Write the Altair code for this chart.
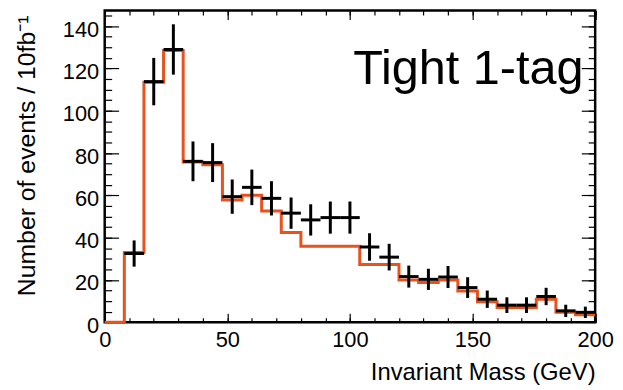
import altair as alt
import pandas as pd

# ---------------- data ----------------
bin_edges = list(range(0, 201, 8))  # 25 bins of 8 GeV
mc_counts = [0, 33.0, 113.5, 128.5, 75.8, 74.5, 57.8, 60.1, 52.6, 42.5,
             35.9, 35.9, 35.9, 27.3, 27.3, 20.0, 18.8, 20.0, 14.8, 9.7,
             7.0, 7.0, 10.9, 4.7, 3.6]

data_centers = [12, 20, 28, 36, 44, 52, 60, 68, 76, 84, 92, 100, 108, 116,
                124, 132, 140, 148, 156, 164, 172, 180, 188, 196]
data_counts = [32.5, 113.8, 129.0, 76.1, 75.5, 59.4, 63.8, 58.6, 51.6, 48.4,
               49.5, 49.5, 35.6, 30.8, 21.6, 20.3, 21.4, 16.4, 10.9, 8.1,
               8.1, 12.2, 5.4, 4.7]
data_errors = [6.2, 11.2, 11.9, 9.4, 9.2, 8.1, 8.4, 8.1, 7.4, 7.4,
               7.6, 7.6, 6.5, 6.3, 5.2, 5.0, 5.2, 4.9, 4.1, 3.7,
               3.7, 4.1, 2.9, 2.7]
bin_half_width = 4

x_major = [0, 50, 100, 150, 200]
x_minor = list(range(0, 201, 10))
y_major = list(range(0, 141, 20))
y_minor = list(range(0, 146, 5))

label_text = ["Tight 1-tag"]
x_title = "Invariant Mass (GeV)"
y_title = "Number of events / 10fb\u207b\u00b9"

# ---------------- tables ----------------
hist_df = pd.DataFrame({"x": bin_edges, "y": mc_counts + [mc_counts[-1]]})
pts_df = pd.DataFrame({"c": data_centers, "v": data_counts, "e": data_errors})
pts_df["lo"] = pts_df["c"] - bin_half_width
pts_df["hi"] = pts_df["c"] + bin_half_width
pts_df["ylo"] = pts_df["v"] - pts_df["e"]
pts_df["yhi"] = pts_df["v"] + pts_df["e"]
txt_df = pd.DataFrame({"t": label_text})

FONT = "Liberation Sans"
ORANGE = "#e8521d"

xs = alt.Scale(domain=[0, 200], nice=False, zero=False)
ys = alt.Scale(domain=[0, 147.4], nice=False, zero=False)


def tick_axis(orient, values, size):
    return alt.Axis(orient=orient, values=values, tickSize=size, offset=-size,
                    labels=False, domain=False, grid=False, title=None,
                    ticks=True, tickColor="black", tickWidth=1.2)


hist = alt.Chart(hist_df).mark_line(
    interpolate="step-after", color=ORANGE, strokeWidth=3
).encode(
    x=alt.X("x:Q", scale=xs, axis=alt.Axis(
        orient="bottom", values=x_major, ticks=False, tickSize=0, domain=False,
        grid=False, labelFont=FONT, labelFontSize=22, labelColor="black",
        labelPadding=24, labelBaseline="alphabetic", labelFlush=False,
        labelOverlap=False, title=x_title, titleFont=FONT, titleFontSize=24,
        titleFontWeight="normal", titleColor="black", titleAnchor="end",
        titleBaseline="alphabetic", titleY=58)),
    y=alt.Y("y:Q", scale=ys, axis=alt.Axis(
        orient="left", values=y_major, ticks=False, tickSize=0, domain=False,
        grid=False, labelFont=FONT, labelFontSize=22, labelColor="black",
        labelPadding=6, labelOffset=3, labelFlush=False, labelOverlap=False,
        title=y_title, titleFont=FONT, titleFontSize=25,
        titleFontWeight="normal", titleColor="black", titleAngle=270,
        titleX=-70.5, titleY=146, titleAlign="center",
        titleBaseline="alphabetic")),
)

vbars = alt.Chart(pts_df).mark_rule(color="black", strokeWidth=3).encode(
    x=alt.X("c:Q", scale=xs, axis=tick_axis("bottom", x_major, 9)),
    y=alt.Y("ylo:Q", scale=ys, axis=tick_axis("left", y_major, 14)),
    y2="yhi:Q",
)

hbars = alt.Chart(pts_df).mark_rule(color="black", strokeWidth=3).encode(
    x=alt.X("lo:Q", scale=xs, axis=tick_axis("bottom", x_minor, 4.5)),
    x2="hi:Q",
    y=alt.Y("v:Q", scale=ys, axis=tick_axis("left", y_minor, 7)),
)

ghost1 = alt.Chart(pts_df).mark_point(opacity=0).encode(
    x=alt.X("c:Q", scale=xs, axis=tick_axis("top", x_major, 9)),
    y=alt.Y("v:Q", scale=ys, axis=tick_axis("right", y_major, 14)),
)

ghost2 = alt.Chart(pts_df).mark_point(opacity=0).encode(
    x=alt.X("c:Q", scale=xs, axis=tick_axis("top", x_minor, 4.5)),
    y=alt.Y("v:Q", scale=ys, axis=tick_axis("right", y_minor, 7)),
)

label = alt.Chart(txt_df).mark_text(
    font=FONT, fontSize=49, align="left", baseline="alphabetic", color="black"
).encode(text="t:N", x=alt.value(250.5), y=alt.value(74))

chart = alt.layer(hist, vbars, hbars, ghost1, ghost2, label).resolve_axis(
    x="independent", y="independent"
).properties(
    width=494.5, height=314.3,
    autosize=alt.AutoSizeParams(type="none"),
    padding={"left": 97.5, "top": 1, "right": 20, "bottom": 65},
    background="white",
).configure_view(stroke="black", strokeWidth=2.5)

chart.save("out.html", embed_options={"renderer": "svg", "actions": False})
